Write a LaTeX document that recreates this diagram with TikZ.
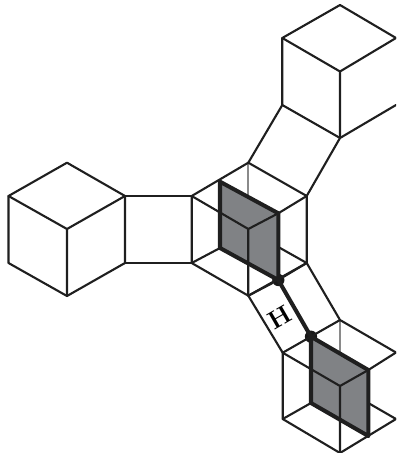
\documentclass[tikz,border=0pt]{standalone}
\definecolor{facegray}{HTML}{808285}
\definecolor{backgray}{HTML}{8A8A8A}
\tikzset{
    edge/.style={line width=1.2pt,line join=round,line cap=round,black!88},
    backedge/.style={line width=1.2pt,backgray},
    bond/.style={line width=2.3pt,line join=round,black!88},
    face/.style={fill=facegray},
    site/.style={circle,fill=black!90,inner sep=0pt,minimum size=7pt}
}
\begin{document}
\begin{tikzpicture}[x=0.02cm,y=-0.02cm]
\useasboundingbox (0,0) rectangle (396,453);
\clip (0,0) rectangle (396,453);
% central cell
\coordinate (ct) at (248.3,162.7);
\coordinate (cur) at (306.7,196);
\coordinate (clr) at (306.7,263);
\coordinate (cb) at (248.3,295.7);
\coordinate (cll) at (191.7,263);
\coordinate (cul) at (191.7,196);
\coordinate (cm) at (248.3,229);
\coordinate (cq) at (248.3,196);
\coordinate (ca) at (220,181.7);
\coordinate (cc) at (278.3,213.3);
\coordinate (cd) at (220,248);
\coordinate (ce) at (278.3,247);
\node[site] (sitea) at (278.3,280) {};
% lower right cell
\coordinate (rt) at (340,320);
\coordinate (ru) at (396,352.5);
\coordinate (rl) at (282.7,352.7);
\coordinate (rll) at (282.7,419);
\coordinate (rb) at (340,453);
\coordinate (rbr) at (396,419);
\coordinate (rm) at (340,386);
\coordinate (rq) at (340,353);
\coordinate (rc) at (368.3,370);
\coordinate (rd) at (311,403);
\coordinate (re) at (368.3,436);
\coordinate (rf) at (368.3,403);
\node[site] (siteb) at (311,336.7) {};
% upper right cell
\coordinate (ut) at (340,5);
\coordinate (ul) at (282.3,38);
\coordinate (um) at (340,71.5);
\coordinate (ur) at (396,38);
\coordinate (ull) at (282.3,105);
\coordinate (ub) at (340,138);
\coordinate (ulr) at (396,105);
% left cell
\coordinate (lt) at (67,162.7);
\coordinate (ll) at (8.5,196);
\coordinate (lm) at (67,229);
\coordinate (lr) at (125,196);
\coordinate (lrr) at (125,263);
\coordinate (lb) at (67,296);
\coordinate (lll) at (8.5,263);
% grey faces
\fill[face] (ca) -- (cc) -- (sitea.center) -- (cd) -- cycle;
\fill[face] (siteb.center) -- (rc) -- (re) -- (rd) -- cycle;
% back lines
\draw[backedge] (ct) -- (cq);
\draw[backedge] (rt) -- (rq);
% central cell lines
\draw[edge] (ct) -- (cur) -- (clr) -- (cb) -- (cll) -- (cul) -- cycle;
\draw[edge] (cul) -- (cm) -- (cc) (cm) -- (cb) (cd) -- (cll) (ce) -- (clr) (cc) -- (cur);
\draw[edge] (sitea) -- (clr) (sitea) -- (cb);
% lower right cell lines
\draw[edge] (ru) -- (rt) -- (rl) -- (rll) -- (rb) -- (rbr);
\draw[edge] (rl) -- (rm) -- (rc) -- (ru) (rm) -- (rb) (rd) -- (rll) (rf) -- (rbr);
% upper right cell lines
\draw[edge] (ur) -- (ut) -- (ul) -- (ull) -- (ub) -- (ulr);
\draw[edge] (ul) -- (um) -- (ur) (um) -- (ub);
% left cell lines
\draw[edge] (lr) -- (lt) -- (ll) -- (lll) -- (lb) -- (lrr) -- cycle;
\draw[edge] (ll) -- (lm) -- (lr) (lm) -- (lb);
% bridges
\draw[edge] (ct) -- (ull) (cur) -- (ub);
\draw[edge] (cul) -- (lr) (cll) -- (lrr);
\draw[edge] (cb) -- (rl) (clr) -- (rt);
% thick lines
\draw[bond] (sitea.center) -- (cd) -- (ca) -- (cc) -- cycle;
\draw[bond] (siteb.center) -- (rc) -- (re) -- (rd) -- cycle;
\draw[bond] (sitea.center) -- (siteb.center);
\node[rotate=30,font=\bfseries\Large,inner sep=0pt] (hop) at (280,317) {H};
\end{tikzpicture}
\end{document}
